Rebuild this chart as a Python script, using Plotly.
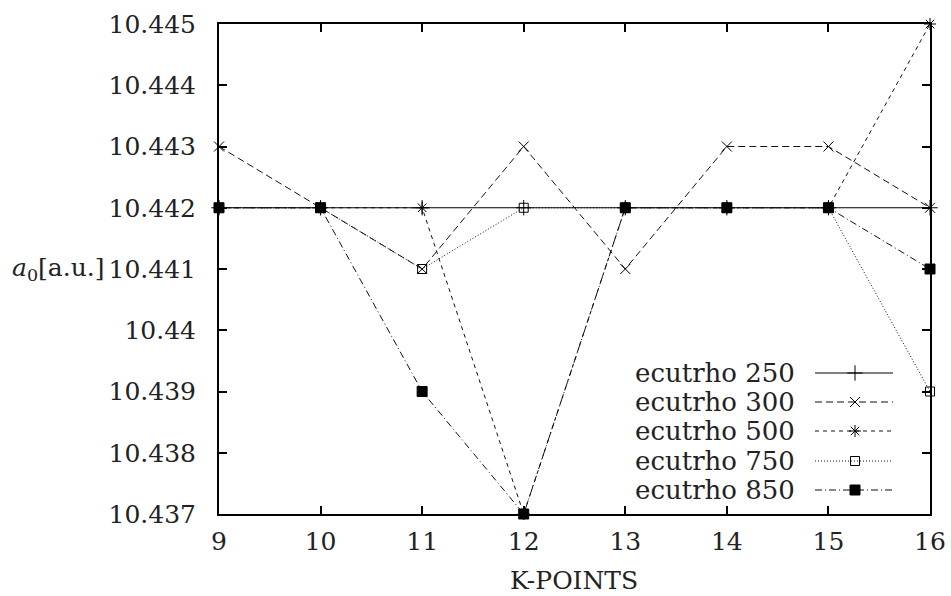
import plotly.graph_objects as go

# Lattice parameter a0 [a.u.] versus number of k-points for several ecutrho cutoffs
kpoints = [9, 10, 11, 12, 13, 14, 15, 16]
ecut_250 = [10.442, 10.442, 10.442, 10.442, 10.442, 10.442, 10.442, 10.442]
ecut_300 = [10.443, 10.442, 10.441, 10.443, 10.441, 10.443, 10.443, 10.442]
ecut_500 = [10.442, 10.442, 10.442, 10.437, 10.442, 10.442, 10.442, 10.445]
ecut_750 = [10.442, 10.442, 10.441, 10.442, 10.442, 10.442, 10.442, 10.439]
ecut_850 = [10.442, 10.442, 10.439, 10.437, 10.442, 10.442, 10.442, 10.441]

series_names = ["ecutrho 250", "ecutrho 300", "ecutrho 500", "ecutrho 750", "ecutrho 850"]
series_values = [ecut_250, ecut_300, ecut_500, ecut_750, ecut_850]

y_ticks = [10.437, 10.438, 10.439, 10.44, 10.441, 10.442, 10.443, 10.444, 10.445]
y_tick_labels = ["10.437", "10.438", "10.439", "10.44", "10.441", "10.442", "10.443", "10.444", "10.445"]
x_ticks = [9, 10, 11, 12, 13, 14, 15, 16]

FONT = "DejaVu Serif"
FS = 25
TXT = "#222222"

styles = [
    dict(dash="solid", symbol="cross-thin-open", size=11, color="#000000"),
    dict(dash="7px,4px", symbol="x-thin-open", size=10, color="#111111"),
    dict(dash="4px,4px", symbol="asterisk-open", size=10, color="#111111"),
    dict(dash="1px,2px", symbol="square-open", size=9, color="#111111"),
    dict(dash="7px,3px,1px,3px", symbol="square", size=10, color="#111111"),
]

fig = go.Figure()

for name, vals, st in zip(series_names, series_values, styles):
    fig.add_trace(go.Scatter(
        x=kpoints, y=vals, name=name, mode="lines+markers",
        line=dict(color=st["color"], width=1, dash=st["dash"]),
        marker=dict(symbol=st["symbol"], size=st["size"], color="#000000",
                    line=dict(color="#000000", width=1)),
        cliponaxis=False, showlegend=False,
    ))

# Frame geometry in pixels
L, R, T, B = 219, 930, 24, 514
W, H = R - L, B - T


def px(x):
    return (x - L) / W


def py(y):
    return (B - y) / H


# Key: text on the left, line sample with marker on the right
row_y = [373, 402, 431, 461, 490]
for name, st, ry in zip(series_names, styles, row_y):
    fig.add_trace(go.Scatter(
        x=[815, 893], y=[ry, ry], mode="lines", xaxis="x2", yaxis="y2",
        line=dict(color=st["color"], width=1, dash=st["dash"]),
        showlegend=False, hoverinfo="skip",
    ))
    fig.add_trace(go.Scatter(
        x=[855], y=[ry], mode="markers", xaxis="x2", yaxis="y2",
        marker=dict(symbol=st["symbol"], size=st["size"], color="#000000",
                    line=dict(color="#000000", width=1)),
        showlegend=False, hoverinfo="skip",
    ))
    fig.add_annotation(
        x=px(797), y=py(ry), xref="paper", yref="paper", text=name, showarrow=False,
        xanchor="right", yanchor="middle",
        font=dict(family=FONT, size=26, color=TXT),
    )

fig.add_annotation(
    x=px(58), y=py((T + B) / 2), xref="paper", yref="paper",
    text="<i>a</i><sub>0</sub>[a.u.]", showarrow=False,
    xanchor="center", yanchor="middle",
    font=dict(family=FONT, size=FS, color=TXT),
)

fig.add_annotation(
    x=px(574), y=py(580), xref="paper", yref="paper",
    text="K-POINTS", showarrow=False,
    xanchor="center", yanchor="middle",
    font=dict(family=FONT, size=FS, color=TXT),
)

axis_common = dict(
    showline=True, linecolor="#000000", linewidth=2, mirror="ticks",
    ticks="inside", ticklen=8, tickwidth=1.5, tickcolor="#000000",
    showgrid=False, zeroline=False, automargin=False,
    tickfont=dict(family=FONT, size=FS, color=TXT),
)

fig.update_layout(
    width=951, height=596,
    margin=dict(l=L, r=951 - R, t=T, b=596 - B),
    paper_bgcolor="white", plot_bgcolor="white",
    font=dict(family=FONT, size=FS, color=TXT),
    xaxis=dict(range=[9, 16], tickvals=x_ticks, ticklabelstandoff=4, **axis_common),
    yaxis=dict(range=[10.437, 10.445], tickvals=y_ticks, ticktext=y_tick_labels,
               ticklabelstandoff=16, **axis_common),
    xaxis2=dict(range=[L, R], overlaying="x", visible=False, fixedrange=True),
    yaxis2=dict(range=[B, T], overlaying="y", visible=False, fixedrange=True),
    showlegend=False,
)

fig.write_html("out.html")
